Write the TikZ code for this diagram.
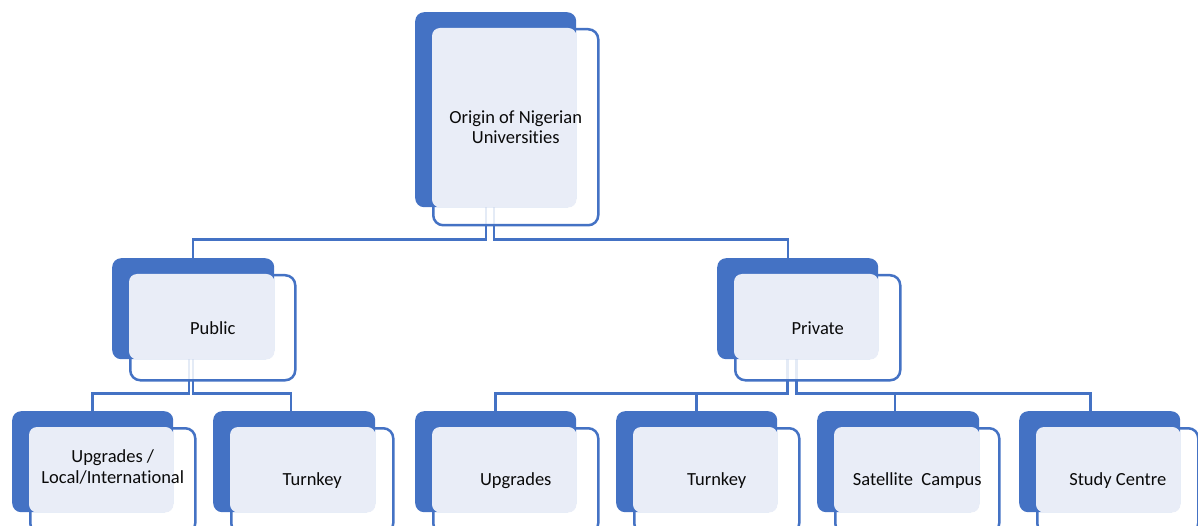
\documentclass[tikz,border=0pt]{standalone}
\usepackage{fontspec}
\setmainfont{Carlito}[Ligatures=NoCommon]
\usetikzlibrary{calc}
\definecolor{sblue}{RGB}{68,114,196}
\definecolor{lightfill}{RGB}{233,237,247}
\definecolor{txt}{RGB}{10,10,10}
\pgfdeclarelayer{bg}
\pgfsetlayers{bg,main}
\tikzset{
  backbox/.style={rectangle, rounded corners=9pt, fill=sblue, inner sep=0pt, anchor=north west},
  frontbox/.style={rectangle, rounded corners=10pt, draw=sblue, line width=2.5pt, fill=white, fill opacity=0.86, inner sep=0pt, anchor=north west},
  lbl/.style={font=\fontsize{18.5}{20.5}\selectfont, align=center, text=txt, inner sep=0pt},
  conn/.style={draw=sblue, line width=2.5pt}
}
% name, back x, back y, back w, back h, front w, front h, text, text shift
\newcommand\obox[9]{%
  \node[frontbox, minimum width=#6, minimum height=#7] (#1f) at (#2+17,#3+16) {};
  \node[backbox, minimum width=#4, minimum height=#5] (#1b) at (#2,#3) {};
  \fill[lightfill, rounded corners=8pt] (#1f.north west) rectangle (#1b.south east);
  \node[lbl] (#1) at ([yshift=#9]#1f.center) {#8};
}
\begin{document}
\begin{tikzpicture}[x=1pt,y=-1pt]
\useasboundingbox (0,0) rectangle (1198,526);
\clip (0,0) rectangle (1198,526);
\obox{root}{415}{12}{161}{195}{165}{196}{Origin of Nigerian\\Universities}{0pt}
\obox{pub}{112}{258}{162}{101}{165}{105}{Public}{0pt}
\obox{priv}{717}{258}{161}{101}{165}{105}{Private}{0pt}
\obox{pa}{12}{411}{161}{101}{165}{105}{Upgrades /\\Local/International}{14pt}
\obox{pb}{213}{411}{162}{101}{162}{105}{Turnkey}{0pt}
\obox{va}{415}{411}{161}{101}{165}{105}{Upgrades}{0pt}
\obox{vb}{616}{411}{161}{101}{165}{105}{Turnkey}{0pt}
\obox{vc}{817}{411}{162}{101}{164}{105}{Satellite\ \ Campus}{0pt}
\obox{vd}{1019}{411}{161}{101}{161}{105}{Study Centre}{0pt}
\begin{pgfonlayer}{bg}
\draw[conn] ([xshift=-9.5pt]rootb.south) -- ++(0,32) -| ([yshift=-2pt]pubb.north);
\draw[conn] ([xshift=-1.5pt]rootb.south) -- ++(0,32) -| ([xshift=-9.5pt,yshift=-2pt]privb.north);
\draw[conn] ([xshift=-4pt]pubb.south) -- ++(0,34) -| ([yshift=-3pt]pab.north);
\draw[conn] ([xshift=0pt]pubb.south) -- ++(0,34) -| ([xshift=-3pt,yshift=-3pt]pbb.north);
\draw[conn] ([xshift=-10pt]privb.south) -- ++(0,34) -| ([yshift=-3pt]vab.north);
\draw[conn] ([xshift=-10pt]privb.south) -- ++(0,34) -| ([yshift=-3pt]vbb.north);
\draw[conn] ([xshift=-1pt]privb.south) -- ++(0,34) -| ([xshift=-3pt,yshift=-3pt]vcb.north);
\draw[conn] ([xshift=-1pt]privb.south) -- ++(0,34) -| ([xshift=-9pt,yshift=-3pt]vdb.north);
\end{pgfonlayer}
\end{tikzpicture}
\end{document}
